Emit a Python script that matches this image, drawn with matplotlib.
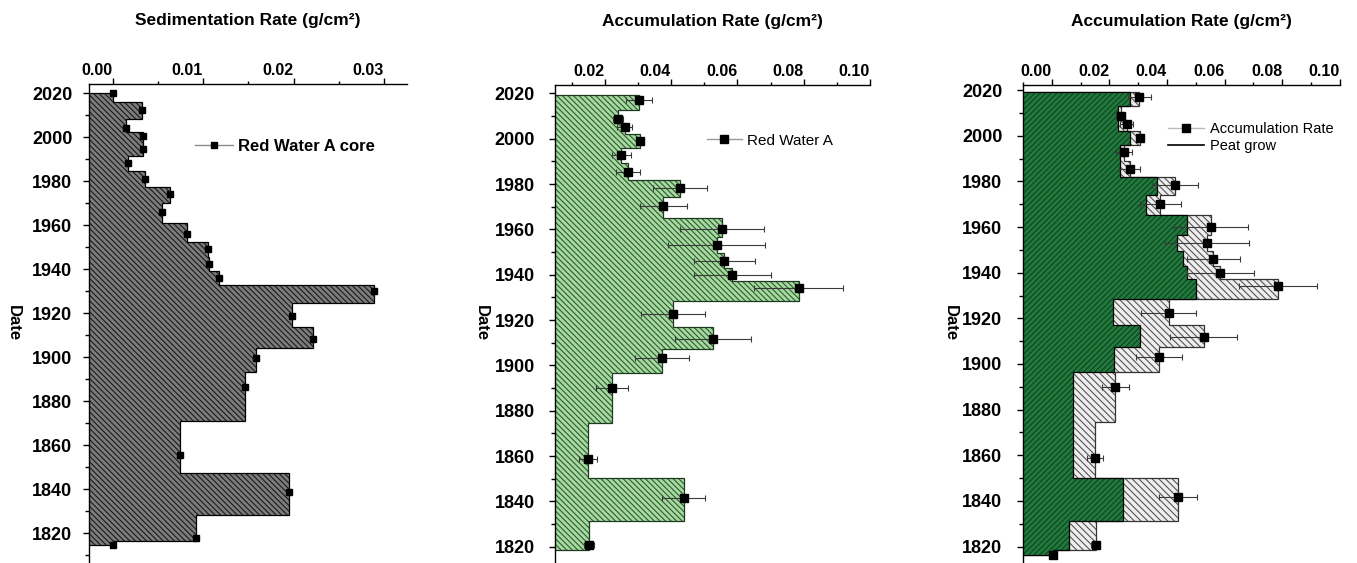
import numpy as np
import matplotlib
matplotlib.use("Agg")
import matplotlib.pyplot as plt
from matplotlib.lines import Line2D
from matplotlib.ticker import MultipleLocator, FormatStrFormatter

plt.rcParams['font.family'] = ['Liberation Sans', 'DejaVu Sans']
plt.rcParams['hatch.linewidth'] = 0.8

# panel 1: sedimentation rate, Red Water A core
sed_dates = [2020.0, 2012.3, 2004.3, 2000.6, 1994.6, 1988.4, 1981.2, 1974.0, 1966.0, 1956.0,
             1949.0, 1942.3, 1936.0, 1930.1, 1918.9, 1908.5, 1899.6, 1886.7, 1855.8, 1839.0,
             1818.1, 1814.6]
sed_rate = [0.0001, 0.0032, 0.0015, 0.0034, 0.0034, 0.0017, 0.0036, 0.0063, 0.0055, 0.0082,
            0.0105, 0.0107, 0.0118, 0.0289, 0.0198, 0.0222, 0.0158, 0.0146, 0.0075, 0.0195,
            0.0092, 0.0000]

# panels 2 and 3: accumulation rate with error, and peat growth
acc_top = 2019.2
acc_dates = [2017.0, 2008.7, 2005.1, 1998.9, 1992.7, 1985.5, 1978.2, 1970.2, 1960.0, 1953.1,
             1946.1, 1939.8, 1934.3, 1922.5, 1911.8, 1903.1, 1890.1, 1858.7, 1841.7, 1820.6,
             1816.3]
acc_rate = [0.0303, 0.0239, 0.0260, 0.0306, 0.0250, 0.0270, 0.0427, 0.0376, 0.0553, 0.0538,
            0.0560, 0.0585, 0.0785, 0.0406, 0.0527, 0.0372, 0.0221, 0.0150, 0.0438, 0.0152,
            0.0003]
acc_err = [0.0040, 0.0015, 0.0022, 0.0010, 0.0028, 0.0035, 0.0080, 0.0071, 0.0127, 0.0146,
           0.0092, 0.0117, 0.0134, 0.0096, 0.0115, 0.0081, 0.0048, 0.0028, 0.0065, 0.0015,
           0.0000]
peat_grow = [0.0272, 0.0231, 0.0231, 0.0272, 0.0238, 0.0238, 0.0366, 0.0326, 0.0470, 0.0436,
             0.0457, 0.0471, 0.0500, 0.0211, 0.0308, 0.0216, 0.0075, 0.0075, 0.0247, 0.0061,
             0.0003]


def step_edges(dates, top=None):
    d = np.asarray(dates, dtype=float)
    mids = (d[:-1] + d[1:]) / 2
    first = d[0] if top is None else top
    return np.concatenate([[first], mids, [d[-1]]])


def draw_steps(ax, vals, edges, base, face, hatch_col, hatch, outline='black', z=1):
    v = np.asarray(vals)[::-1]
    e = edges[::-1]
    ax.stairs(v, e, orientation='horizontal', baseline=base, fill=True,
              facecolor=face, edgecolor=hatch_col, hatch=hatch, linewidth=0, zorder=z)
    ax.stairs(v, e, orientation='horizontal', baseline=base, fill=False,
              edgecolor=outline, linewidth=0.9, zorder=z + 0.1)


def style_axis(ax, xlim, ylim, xmaj, xmin, title, ty, dx, ypad):
    ax.set_xlim(*xlim)
    ax.set_ylim(*ylim)
    ax.xaxis.tick_top()
    ax.spines['right'].set_visible(False)
    ax.spines['bottom'].set_visible(False)
    for s in ('left', 'top'):
        ax.spines[s].set_linewidth(1.0)
    ax.xaxis.set_major_locator(MultipleLocator(xmaj))
    ax.xaxis.set_minor_locator(MultipleLocator(xmin))
    ax.xaxis.set_major_formatter(FormatStrFormatter('%.2f'))
    ax.yaxis.set_major_locator(MultipleLocator(20))
    ax.yaxis.set_minor_locator(MultipleLocator(10))
    ax.tick_params(axis='x', which='major', direction='out', length=4, width=1, pad=0,
                   labelsize=11.5)
    ax.tick_params(axis='x', which='minor', direction='out', length=2.5, width=1)
    ax.tick_params(axis='y', which='major', direction='out', length=4.5, width=1, pad=ypad,
                   labelsize=13)
    ax.tick_params(axis='y', which='minor', direction='out', length=3, width=1)
    for lbl in ax.get_xticklabels():
        lbl.set_fontweight('bold')
        lbl.set_horizontalalignment('right')
    for lbl in ax.get_yticklabels():
        lbl.set_fontweight('bold')
    ax.text(0.5, ty, title, transform=ax.transAxes, ha='center', va='center',
            fontsize=12.5, fontweight='bold')
    ax.text(dx, 0.5, 'Date', transform=ax.transAxes, rotation=270, ha='center',
            va='center', fontsize=12, fontweight='bold')


fig = plt.figure(figsize=(13.57, 5.63), dpi=100)
ax1 = fig.add_axes([0.0656, 0.0018, 0.2341, 0.8490])
ax2 = fig.add_axes([0.4090, 0.0023, 0.2321, 0.8467])
ax3 = fig.add_axes([0.7536, 0.0023, 0.2338, 0.8467])

# panel 1
x1 = (-0.0026, 0.0325)
draw_steps(ax1, sed_rate, step_edges(sed_dates), x1[0], '#7c7c7c', '#1a1a1a', '\\\\\\\\\\\\')
ax1.plot(sed_rate, sed_dates, 's', color='black', ms=5, zorder=5)
style_axis(ax1, x1, (1807, 2024.2), 0.01, 0.005,
           'Sedimentation Rate (g/cm²)', 1.132, -0.2376, 7.5)
h1 = Line2D([], [], color='#8a8a8a', lw=1, marker='s', mfc='black', mec='black', ms=5)
ax1.legend([h1], ['Red Water A core'], loc='center left', bbox_to_anchor=(0.334, 0.869),
           frameon=False, borderpad=0, borderaxespad=0, handlelength=2.3, handletextpad=0.25,
           prop={'size': 12, 'weight': 'bold'})

# panel 2
x2 = (0.005, 0.10)
acc_edges = step_edges(acc_dates, acc_top)
draw_steps(ax2, acc_rate, acc_edges, x2[0], '#a9d8a2', '#285f2d', '\\\\\\\\\\\\',
           outline='#1e3a20')
ax2.errorbar(acc_rate, acc_dates, xerr=acc_err, fmt='s', color='black', ms=5.5,
             ecolor='#3a3a3a', elinewidth=0.8, capsize=2, capthick=0.8, zorder=5)
style_axis(ax2, x2, (1813.4, 2023.7), 0.02, 0.01,
           'Accumulation Rate (g/cm²)', 1.133, -0.2349, 10)
h2 = Line2D([], [], color='#9a9a9a', lw=1, marker='s', mfc='black', mec='black', ms=5.5)
ax2.legend([h2], ['Red Water A'], loc='center left', bbox_to_anchor=(0.482, 0.883),
           frameon=False, borderpad=0, borderaxespad=0, handlelength=2.3, handletextpad=0.3,
           prop={'size': 11})

# panel 3
x3 = (-0.0101, 0.10)
draw_steps(ax3, acc_rate, acc_edges, x3[0], '#eeeeee', '#555555', '\\\\\\\\\\',
           outline='#333333', z=1)
draw_steps(ax3, peat_grow, acc_edges, x3[0], '#217a3c', '#0e4220', '//////',
           outline='black', z=2)
ax3.errorbar(acc_rate, acc_dates, xerr=acc_err, fmt='s', color='black', ms=5.5,
             ecolor='#3a3a3a', elinewidth=0.8, capsize=2, capthick=0.8, zorder=5)
style_axis(ax3, x3, (1813.4, 2022.2), 0.02, 0.01,
           'Accumulation Rate (g/cm²)', 1.134, -0.2291, 10)
h3a = Line2D([], [], color='#bbbbbb', lw=1, marker='s', mfc='black', mec='black', ms=5.5)
h3b = Line2D([], [], color='black', lw=1.2)
ax3.legend([h3a, h3b], ['Accumulation Rate', 'Peat grow'], loc='center left',
           bbox_to_anchor=(0.458, 0.889), frameon=False, borderpad=0, borderaxespad=0,
           handlelength=2.5, handletextpad=0.35, labelspacing=0.2, prop={'size': 10.5})

fig.savefig('out.png', dpi=100)
